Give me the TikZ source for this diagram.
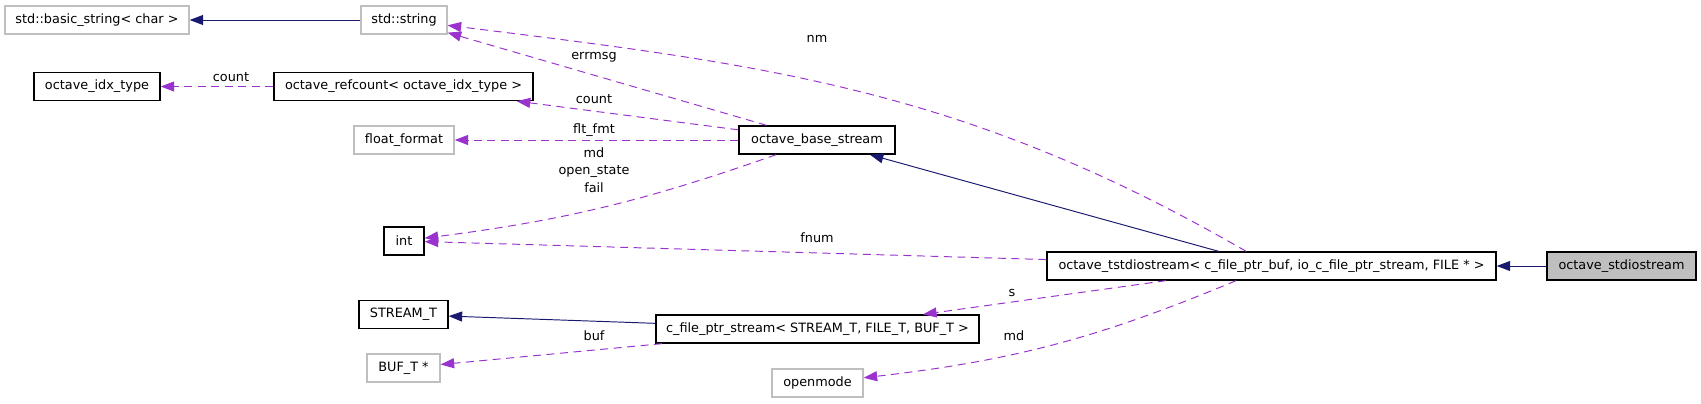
\documentclass[tikz,border=0pt]{standalone}
\usepackage{fontspec}
\setmainfont{DejaVu Sans}
\usetikzlibrary{arrows.meta}
\definecolor{blunotte}{HTML}{191970}
\definecolor{viola}{HTML}{9A32CD}
\definecolor{grigio}{HTML}{BFBFBF}

\begin{document}
\begin{tikzpicture}[x=0.2mm,y=-0.2mm,
    font=\fontsize{7.3}{10}\selectfont,
    classe/.style={draw=black, line width=0.75pt, minimum height=5.6mm, inner sep=0pt},
    esterna/.style={draw=grigio, line width=0.75pt, minimum height=5.6mm, inner sep=0pt},
    eredita/.style={draw=blunotte, line width=0.55pt, -{Triangle[length=2.7mm,width=2mm]}},
    usa/.style={draw=viola, line width=0.55pt, dash pattern=on 1.6mm off 1.1mm,
        -{Triangle[length=2.7mm,width=2mm]}},
    etichetta/.style={inner sep=0pt}]
        \useasboundingbox (0,0) rectangle (1701,403);
        % Classi
        \node[esterna, minimum width=36.8mm] (bstr) at (97,20) {std::basic\_string< char >};
        \node[esterna, minimum width=17.2mm] (strg) at (404,20) {std::string};
        \node[classe, minimum width=25.2mm] (idx) at (97,86.5) {octave\_idx\_type};
        \node[classe, minimum width=51.8mm] (ref) at (403.5,86.5) {octave\_refcount< octave\_idx\_type >};
        \node[esterna, minimum width=20mm] (flt) at (404,140) {float\_format};
        \node[classe, minimum width=31.2mm] (base) at (817,140) {octave\_base\_stream};
        \node[classe, minimum width=8mm] (int) at (404,241) {int};
        \node[classe, minimum width=89.8mm] (tst) at (1271.5,266)
        {octave\_tstdiostream< c\_file\_ptr\_buf, io\_c\_file\_ptr\_stream, FILE * >};
        \node[classe, fill=grigio, minimum width=29.8mm] (stdio) at (1621.5,266) {octave\_stdiostream};
        \node[classe, minimum width=17.8mm] (strt) at (403.5,314.5) {STREAM\_T};
        \node[classe, minimum width=64.6mm] (cfps) at (817.5,329) {c\_file\_ptr\_stream< STREAM\_T, FILE\_T, BUF\_T >};
        \node[esterna, minimum width=14.6mm] (buft) at (403.5,368) {BUF\_T *};
        \node[esterna, minimum width=18.2mm] (openm) at (817.5,383) {openmode};
        % Ereditarieta
        \draw[eredita] (strg) -- (bstr);
        \draw[eredita] (tst) -- (base);
        \draw[eredita] (cfps) -- (strt);
        \draw[eredita] (stdio) -- (tst);
        % Membri
        \draw[usa] (ref) -- (idx);
        \draw[usa] (base) -- (strg);
        \draw[usa] (base) -- (ref);
        \draw[usa] (base) -- (flt);
        \draw[usa] (base) to[bend left=6] (int);
        \draw[usa] (tst) to[out=150,in=-7] (strg);
        \draw[usa] (tst) -- (int);
        \draw[usa] (tst) -- (cfps);
        \draw[usa] (tst) to[bend left=8] (openm);
        \draw[usa] (cfps) -- (buft);
        % Etichette
        \node[etichetta] (lcnt) at (231,77) {count};
        \node[etichetta] (lerr) at (594,57) {errmsg};
        \node[etichetta] (lcnt2) at (594,99) {count};
        \node[etichetta] (lflt) at (594,130) {flt\_fmt};
        \node[etichetta, align=center] (lstato) at (594,170) {md\\open\_state\\fail};
        \node[etichetta] (lnm) at (817,39) {nm};
        \node[etichetta] (lfnum) at (817,238) {fnum};
        \node[etichetta] (ls) at (1012,293) {s};
        \node[etichetta] (lmd) at (1014,336) {md};
        \node[etichetta] (lbuf) at (594,336) {buf};
    \end{tikzpicture}
\end{document}
